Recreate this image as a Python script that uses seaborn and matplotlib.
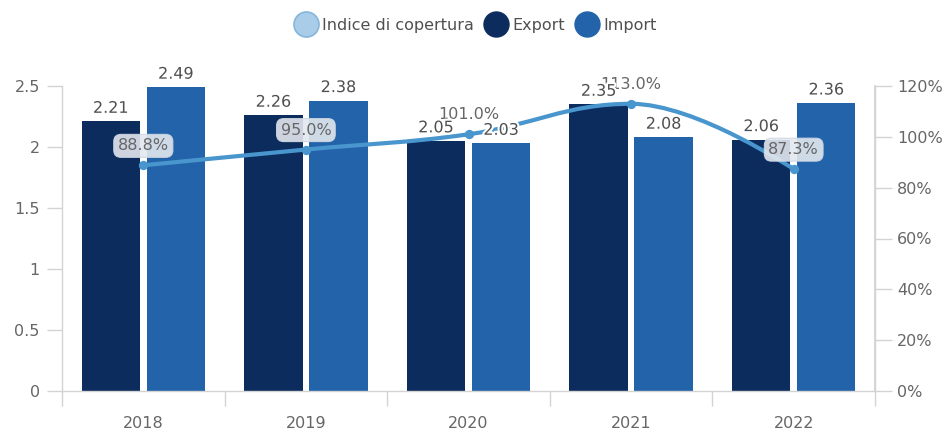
import numpy as np
import pandas as pd
import matplotlib
matplotlib.use("Agg")
import matplotlib.pyplot as plt
import matplotlib.patheffects as pe
from matplotlib.path import Path
from matplotlib.patches import PathPatch
from matplotlib.lines import Line2D
import seaborn as sns

# --- data ---------------------------------------------------------------
years = ["2018", "2019", "2020", "2021", "2022"]
export_vals = [2.21, 2.26, 2.05, 2.35, 2.06]
import_vals = [2.49, 2.38, 2.03, 2.08, 2.36]
coverage_pct = [88.8, 95.0, 101.0, 113.0, 87.3]
series_names = ["Export", "Import"]
coverage_name = "Indice di copertura"

left_ticks = [0, 0.5, 1, 1.5, 2, 2.5]
left_ticklabels = ["0", "0.5", "1", "1.5", "2", "2.5"]
right_ticks = [0, 20, 40, 60, 80, 100, 120]

# --- style --------------------------------------------------------------
C_EXPORT = "#0b2c5d"
C_IMPORT = "#2263a9"
C_LINE = "#4896cd"
C_LEG_IDX = "#a9cce8"
C_AXIS = "#d3d3d3"
C_TICKTXT = "#666666"
C_LABEL = "#505050"

sns.set_theme(style="white")
plt.rcParams["font.family"] = ["DejaVu Sans"]

fig = plt.figure(figsize=(9.51, 4.34), dpi=100)
ax = fig.add_axes([62 / 951, 43 / 434, 813 / 951, 305 / 434])

df = pd.DataFrame({
    "year": years * 2,
    "value": export_vals + import_vals,
    "serie": [series_names[0]] * len(years) + [series_names[1]] * len(years),
})

sns.barplot(data=df, x="year", y="value", hue="serie", order=years,
            hue_order=series_names, palette=[C_EXPORT, C_IMPORT],
            width=0.8, gap=0.1, saturation=1, legend=False, ax=ax, zorder=2)
for p in ax.patches:
    p.set_edgecolor("none")

ax.set_xlim(-0.5, len(years) - 0.5)
ax.set_ylim(0, 2.5)
ax.set_xlabel("")
ax.set_ylabel("")
ax.set_yticks(left_ticks)
ax.set_yticklabels(left_ticklabels)

# axes frame
ax.spines["top"].set_visible(False)
for side in ["left", "bottom", "right"]:
    ax.spines[side].set_color(C_AXIS)
    ax.spines[side].set_linewidth(1)

ax.tick_params(axis="y", which="major", length=11, width=1, color=C_AXIS,
               labelcolor=C_TICKTXT, labelsize=11.5, pad=5, left=True)
ax.tick_params(axis="x", which="major", length=0, labelcolor=C_TICKTXT,
               labelsize=11.5, pad=18)
ax.set_xticks(np.arange(-0.5, len(years)), minor=True)
ax.tick_params(axis="x", which="minor", length=11, width=1, color=C_AXIS,
               bottom=True)

# --- coverage index on the secondary axis --------------------------------
ax2 = ax.twinx()
ax2.set_ylim(0, 120)
ax2.set_yticks(right_ticks)
ax2.set_yticklabels([f"{v}%" for v in right_ticks])
for side in ["top", "left", "bottom"]:
    ax2.spines[side].set_visible(False)
ax2.spines["right"].set_color(C_AXIS)
ax2.tick_params(axis="y", length=12, width=1, color=C_AXIS,
                labelcolor=C_TICKTXT, labelsize=11.5, pad=4, right=True)
ax2.grid(False)

xs = np.arange(len(years), dtype=float)
ys = np.array(coverage_pct, dtype=float)


def spline_controls(x, y, smoothing=1.5):
    """Left/right bezier control points for a smooth curve through (x, y)."""
    denom = smoothing + 1
    n = len(x)
    lc = np.column_stack([x, y]).astype(float)
    rc = lc.copy()
    for i in range(1, n - 1):
        px, py = x[i], y[i]
        lx = (smoothing * px + x[i - 1]) / denom
        ly = (smoothing * py + y[i - 1]) / denom
        rx = (smoothing * px + x[i + 1]) / denom
        ry = (smoothing * py + y[i + 1]) / denom
        corr = (ry - ly) * (rx - px) / (rx - lx) + py - ry
        ly += corr
        ry += corr
        if ly > y[i - 1] and ly > py:
            ly = max(y[i - 1], py); ry = 2 * py - ly
        elif ly < y[i - 1] and ly < py:
            ly = min(y[i - 1], py); ry = 2 * py - ly
        if ry > y[i + 1] and ry > py:
            ry = max(y[i + 1], py); ly = 2 * py - ry
        elif ry < y[i + 1] and ry < py:
            ry = min(y[i + 1], py); ly = 2 * py - ry
        lc[i] = (lx, ly)
        rc[i] = (rx, ry)
    return lc, rc


lc, rc = spline_controls(xs, ys)
verts = [(xs[0], ys[0])]
codes = [Path.MOVETO]
for i in range(1, len(xs)):
    verts += [tuple(rc[i - 1]), tuple(lc[i]), (xs[i], ys[i])]
    codes += [Path.CURVE4] * 3
ax2.add_patch(PathPatch(Path(verts, codes), facecolor="none",
                        edgecolor=C_LINE, linewidth=3, zorder=4,
                        capstyle="round", joinstyle="round"))
sns.scatterplot(x=xs, y=ys, ax=ax2, color=C_LINE, s=45, edgecolor=C_LINE,
                linewidth=0, zorder=5, legend=False)

# percentage labels over the points
boxed = [True, True, False, False, True]
for x, y, b in zip(xs, ys, boxed):
    kw = {}
    if b:
        kw["bbox"] = dict(boxstyle="round,pad=0.25,rounding_size=0.45",
                          fc="#e3e8ef", ec="#cfd7e2", lw=0.8, alpha=0.9)
    ax2.annotate(f"{y:.1f}%", (x, y), xytext=(0, 14), textcoords="offset points",
                 ha="center", va="center", fontsize=11.5, color=C_TICKTXT,
                 zorder=5, **kw)

# value labels over the bars, drawn on the top layer with a white halo
for cont in ax.containers:
    for rect, v in zip(cont, cont.datavalues):
        ax2.annotate(f"{v:.2f}",
                     (rect.get_x() + rect.get_width() / 2, v * 120 / 2.5),
                     xytext=(0, 4), textcoords="offset points",
                     ha="center", va="bottom", fontsize=11.5, color=C_LABEL,
                     zorder=7,
                     path_effects=[pe.withStroke(linewidth=3, foreground="white")])

# --- legend -------------------------------------------------------------
handles = [
    Line2D([], [], linestyle="none", marker="o", markersize=18,
           markerfacecolor=C_LEG_IDX, markeredgecolor="#86b6dc", markeredgewidth=1.2),
    Line2D([], [], linestyle="none", marker="o", markersize=18,
           markerfacecolor=C_EXPORT, markeredgecolor=C_EXPORT),
    Line2D([], [], linestyle="none", marker="o", markersize=18,
           markerfacecolor=C_IMPORT, markeredgecolor=C_IMPORT),
]
fig.legend(handles, [coverage_name] + series_names, loc="center",
           bbox_to_anchor=(0.502, 0.942), ncol=3, frameon=False,
           fontsize=11.5, labelcolor=C_LABEL, handletextpad=0.5,
           columnspacing=0.9, handlelength=1.0)

fig.savefig("out.png", dpi=100)
